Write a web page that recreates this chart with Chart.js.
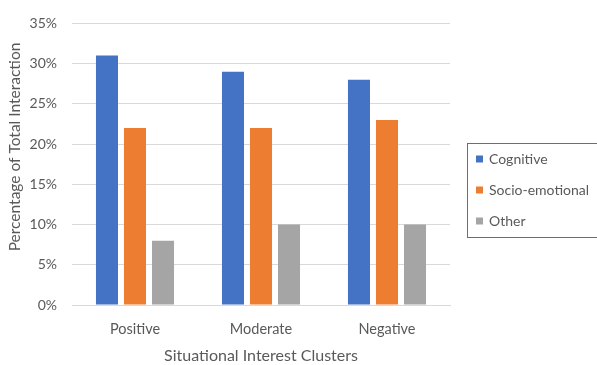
<!DOCTYPE html>
<html>
<head>
<meta charset="utf-8">
<script src="https://cdn.jsdelivr.net/npm/chart.js@4"></script>
<style>
  html, body { margin: 0; padding: 0; background: #ffffff; }
  #wrap { width: 597px; height: 365px; }
</style>
</head>
<body>
<div id="wrap"><canvas id="c" width="597" height="365"></canvas></div>
<script>
const clusters = ['Positive', 'Moderate', 'Negative'];
const cognitive = [31, 29, 28];
const socioEmotional = [22, 22, 23];
const other = [8, 10, 10];
const yTicks = [0, 5, 10, 15, 20, 25, 30, 35];
const yTitle = 'Percentage of Total Interaction';

const FONT = 'Lato, "Open Sans", sans-serif';
const TEXT = '#595959';

// Boxed legend on the right, in the office-chart style, plus the rotated y title
const boxedLegend = {
  id: 'boxedLegend',
  afterDraw(chart) {
    const ctx = chart.ctx;
    const x0 = 467, y0 = 143, w = 140, h = 94;
    ctx.save();
    ctx.strokeStyle = '#4472c4';
    ctx.lineWidth = 1;
    ctx.strokeRect(x0 + 0.5, y0 + 0.5, w, h);
    ctx.font = '14px ' + FONT;
    ctx.textBaseline = 'middle';
    chart.data.datasets.forEach((ds, i) => {
      const cy = y0 + 16 + i * 31;
      ctx.fillStyle = ds.backgroundColor;
      ctx.fillRect(x0 + 9, cy - 3.5, 7, 7);
      ctx.fillStyle = TEXT;
      ctx.fillText(ds.label, x0 + 22, cy);
    });

    ctx.translate(15, 147);
    ctx.rotate(-Math.PI / 2);
    ctx.font = '15.5px ' + FONT;
    ctx.textAlign = 'center';
    ctx.fillStyle = TEXT;
    ctx.fillText(yTitle, 0, 0);
    ctx.restore();
  }
};

new Chart(document.getElementById('c'), {
  type: 'bar',
  data: {
    labels: clusters,
    datasets: [
      { label: 'Cognitive', data: cognitive, backgroundColor: '#4472c4' },
      { label: 'Socio-emotional', data: socioEmotional, backgroundColor: '#ed7d31' },
      { label: 'Other', data: other, backgroundColor: '#a5a5a5' }
    ]
  },
  options: {
    responsive: false,
    animation: false,
    layout: { padding: { top: 10, right: 147, left: 0, bottom: 0 } },
    datasets: {
      bar: { categoryPercentage: 0.667, barPercentage: 0.786, borderWidth: 0 }
    },
    plugins: {
      legend: { display: false },
      tooltip: { enabled: false }
    },
    scales: {
      x: {
        grid: { display: false },
        border: { display: true, color: '#d9d9d9' },
        ticks: { color: TEXT, font: { family: FONT, size: 14.5 }, padding: 8 },
        title: {
          display: true,
          text: 'Situational Interest Clusters',
          color: TEXT,
          font: { family: FONT, size: 16 },
          padding: { top: 8, bottom: 0 }
        },
        afterFit(scale) { scale.height = 60; }
      },
      y: {
        min: 0,
        max: 35,
        afterBuildTicks(scale) { scale.ticks = yTicks.map(v => ({ value: v })); },
        grid: { color: '#d9d9d9', drawTicks: false },
        border: { display: false },
        ticks: {
          color: TEXT,
          font: { family: FONT, size: 14 },
          padding: 15,
          callback: v => v + '%'
        },
        afterFit(scale) { scale.width = 72; }
      }
    }
  },
  plugins: [boxedLegend]
});
</script>
</body>
</html>
